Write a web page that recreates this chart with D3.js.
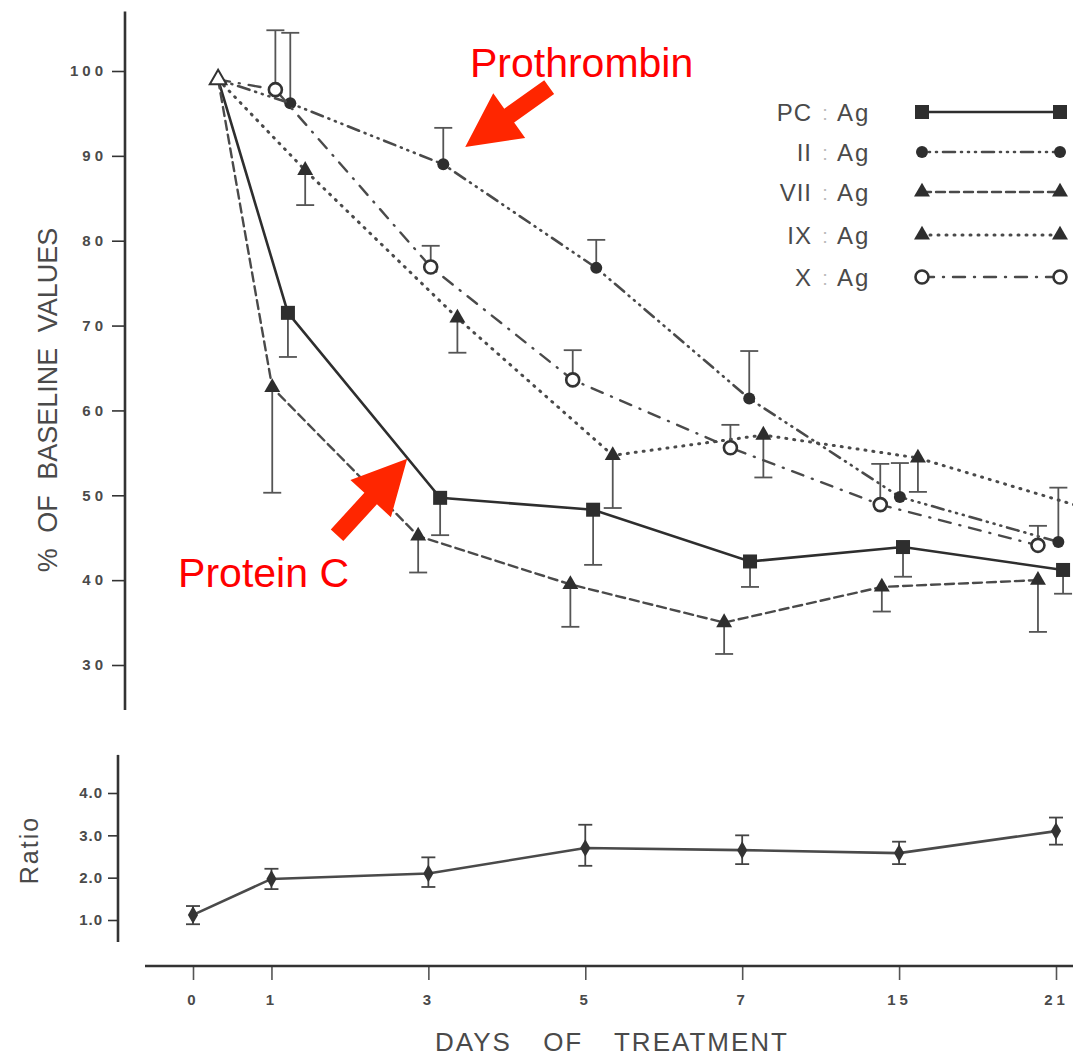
<!DOCTYPE html>
<html>
<head>
<meta charset="utf-8">
<script src="https://cdn.jsdelivr.net/npm/d3@7"></script>
<style>
body { margin: 0; background: #fff; }
text { font-family: "Liberation Sans", Arial, sans-serif; }
</style>
</head>
<body>
<div id="chart"></div>
<script>
// Days on the axis and their slot on the (uneven) time axis
var dayLabels = ["0", "1", "3", "5", "7", "15", "21"];
var daySlots = [0, 1, 3, 5, 7, 9, 11];

// Top panel: % of baseline values (points are staggered a little around each day)
var pcSlot = [0.32, 1.21, 3.15, 5.10, 7.10, 9.05, 11.09];
var pcVal  = [99, 71.5, 49.7, 48.3, 42.2, 43.9, 41.2];
var pcErr  = [null, 66.3, 45.3, 41.8, 39.2, 40.4, 38.4];

var iiSlot = [0.32, 1.24, 3.19, 5.14, 7.09, 9.01, 11.03];
var iiVal  = [99, 96.2, 89.0, 76.8, 61.4, 49.8, 44.5];
var iiErr  = [null, 104.5, 93.3, 80.1, 67.0, 53.8, 50.9];

var viiSlot = [0.32, 1.01, 2.87, 4.81, 6.77, 8.78, 10.77];
var viiVal  = [99, 62.7, 45.2, 39.5, 35.0, 39.2, 40.0];
var viiErr  = [null, 50.3, 40.9, 34.5, 31.3, 36.3, 33.9];

var ixSlot = [0.32, 1.43, 3.37, 5.35, 7.27, 9.24, 11.37];
var ixVal  = [99, 88.3, 70.9, 54.7, 57.1, 54.4, 48.5];
var ixErr  = [null, 84.2, 66.8, 48.5, 52.1, 50.4, 45.0];

var xSlot = [0.32, 1.05, 3.03, 4.84, 6.85, 8.76, 10.77];
var xVal  = [99, 97.8, 76.9, 63.6, 55.6, 48.9, 44.1];
var xErr  = [null, 104.8, 79.4, 67.1, 58.3, 53.7, 46.4];

var pctTicks = [30, 40, 50, 60, 70, 80, 90, 100];

// Bottom panel: ratio with error range
var ratioVal = [1.12, 1.97, 2.10, 2.70, 2.65, 2.58, 3.10];
var ratioLo  = [0.90, 1.73, 1.78, 2.28, 2.32, 2.32, 2.78];
var ratioHi  = [1.33, 2.21, 2.48, 3.25, 3.00, 2.85, 3.42];
var ratioTicks = [1, 2, 3, 4];

// Series table built from the arrays above
var series = [
    { label: "PC", slot: pcSlot, val: pcVal, err: pcErr, dash: null, marker: "square", color: "#2e2e2e", width: 2.6 },
    { label: "II", slot: iiSlot, val: iiVal, err: iiErr, dash: "1,6,1,6,1,6,12,6", marker: "circle", color: "#4a4a4a", width: 2.6 },
    { label: "VII", slot: viiSlot, val: viiVal, err: viiErr, dash: "9,5", marker: "triangle", color: "#4a4a4a", width: 2.4 },
    { label: "IX", slot: ixSlot, val: ixVal, err: ixErr, dash: "1,7", marker: "triangle", color: "#4a4a4a", width: 3 },
    { label: "X", slot: xSlot, val: xVal, err: xErr, dash: "12,9,1,9", marker: "open", color: "#4a4a4a", width: 2.4 }
];

var width = 1073;
var height = 1057;

var svg = d3.select("#chart").append("svg")
    .attr("width", width)
    .attr("height", height);

var x = d3.scaleLinear().domain([0, 11]).range([193, 1056]);
var y = d3.scaleLinear().domain([30, 100]).range([665, 71]);
var yr = d3.scaleLinear().domain([1, 4]).range([920, 793]);

var axisColor = "#333";
var labelColor = "#4a4a4a";

// ---- top y axis
var yAxis = svg.append("g")
    .attr("transform", "translate(125,0)")
    .call(d3.axisLeft(y).tickValues(pctTicks).tickSize(13).tickPadding(5)
        .tickFormat(function (d) { return d; }));
yAxis.select(".domain").remove();
yAxis.selectAll("line").attr("stroke", axisColor).attr("stroke-width", 1.6);
yAxis.selectAll("text")
    .attr("fill", labelColor)
    .style("font-size", "15px")
    .style("letter-spacing", "4px")
    .style("font-weight", "bold");
yAxis.append("line")
    .attr("x1", 0).attr("x2", 0)
    .attr("y1", y(107)).attr("y2", y(24.7))
    .attr("stroke", axisColor).attr("stroke-width", 2.6);

svg.append("text")
    .attr("transform", "translate(57,400) rotate(-90)")
    .attr("text-anchor", "middle")
    .attr("fill", labelColor)
    .style("font-size", "27px")
    .style("word-spacing", "8px")
    .text("% OF BASELINE VALUES");

// ---- bottom y axis
var rAxis = svg.append("g")
    .attr("transform", "translate(118,0)")
    .call(d3.axisLeft(yr).tickValues(ratioTicks).tickSize(10).tickPadding(5)
        .tickFormat(d3.format(".1f")));
rAxis.select(".domain").remove();
rAxis.selectAll("line").attr("stroke", axisColor).attr("stroke-width", 1.6);
rAxis.selectAll("text")
    .attr("fill", labelColor)
    .style("font-size", "15px")
    .style("letter-spacing", "1px")
    .style("font-weight", "bold");
rAxis.append("line")
    .attr("x1", 0).attr("x2", 0)
    .attr("y1", yr(4.9)).attr("y2", yr(0.48))
    .attr("stroke", axisColor).attr("stroke-width", 2.6);

svg.append("text")
    .attr("transform", "translate(38,850) rotate(-90)")
    .attr("text-anchor", "middle")
    .attr("fill", labelColor)
    .style("font-size", "25px")
    .style("letter-spacing", "2px")
    .text("Ratio");

// ---- x axis
var xAxis = svg.append("g")
    .attr("transform", "translate(0,966)")
    .call(d3.axisBottom(x).tickValues(daySlots).tickSize(14).tickPadding(14)
        .tickFormat(function (d, i) { return dayLabels[i]; }));
xAxis.select(".domain").remove();
xAxis.selectAll("line").attr("stroke", "#555").attr("stroke-width", 1.6);
xAxis.selectAll("text")
    .attr("fill", labelColor)
    .style("font-size", "15px")
    .style("letter-spacing", "4px")
    .style("font-weight", "bold");
xAxis.append("line")
    .attr("x1", 145).attr("x2", width)
    .attr("y1", 0).attr("y2", 0)
    .attr("stroke", axisColor).attr("stroke-width", 2.6);

svg.append("text")
    .attr("x", 612).attr("y", 1051)
    .attr("text-anchor", "middle")
    .attr("fill", labelColor)
    .style("font-size", "26px")
    .style("letter-spacing", "2px")
    .style("word-spacing", "22px")
    .text("DAYS OF TREATMENT");

// ---- markers
function drawMarker(g, type, cx, cy, color) {
    if (type === "square") {
        g.append("rect").attr("x", cx - 7).attr("y", cy - 7).attr("width", 14).attr("height", 14)
            .attr("fill", color);
    } else if (type === "circle") {
        g.append("circle").attr("cx", cx).attr("cy", cy).attr("r", 6).attr("fill", "#2e2e2e");
    } else if (type === "triangle") {
        g.append("path").attr("d", d3.symbol().type(d3.symbolTriangle).size(110)())
            .attr("transform", "translate(" + cx + "," + cy + ")")
            .attr("fill", "#2e2e2e");
    } else if (type === "open") {
        g.append("circle").attr("cx", cx).attr("cy", cy).attr("r", 6.5)
            .attr("fill", "#fff").attr("stroke", "#333").attr("stroke-width", 2.6);
    }
}

var line = d3.line()
    .x(function (d) { return x(d.s); })
    .y(function (d) { return y(d.v); });

var plot = svg.append("g");

series.forEach(function (s) {
    var pts = s.val.map(function (v, i) { return { s: s.slot[i], v: v, e: s.err[i] }; });
    var g = plot.append("g");

    g.append("path")
        .datum(pts)
        .attr("d", line)
        .attr("fill", "none")
        .attr("stroke", s.color)
        .attr("stroke-width", s.width)
        .attr("stroke-linecap", s.dash ? "round" : "butt")
        .attr("stroke-dasharray", s.dash);

    // one-sided error bars
    pts.forEach(function (p) {
        if (p.e == null) return;
        var px = x(p.s);
        g.append("line")
            .attr("x1", px).attr("x2", px)
            .attr("y1", y(p.v)).attr("y2", y(p.e))
            .attr("stroke", "#555").attr("stroke-width", 1.8);
        g.append("line")
            .attr("x1", px - 9).attr("x2", px + 9)
            .attr("y1", y(p.e)).attr("y2", y(p.e))
            .attr("stroke", "#555").attr("stroke-width", 1.8);
    });

    pts.forEach(function (p, i) {
        if (i === 0) return;
        drawMarker(g, s.marker, x(p.s), y(p.v), s.color);
    });
});

// shared starting point at day 0
plot.append("path")
    .attr("d", d3.symbol().type(d3.symbolTriangle).size(120)())
    .attr("transform", "translate(" + x(pcSlot[0]) + "," + y(pcVal[0]) + ")")
    .attr("fill", "#fff").attr("stroke", "#333").attr("stroke-width", 2);

// ---- ratio panel
var rline = d3.line()
    .x(function (d, i) { return x(daySlots[i]); })
    .y(function (d) { return yr(d); });

svg.append("path")
    .datum(ratioVal)
    .attr("d", rline)
    .attr("fill", "none")
    .attr("stroke", "#4a4a4a")
    .attr("stroke-width", 2.6);

ratioVal.forEach(function (v, i) {
    var px = x(daySlots[i]);
    var g = svg.append("g");
    g.append("line").attr("x1", px).attr("x2", px)
        .attr("y1", yr(ratioLo[i])).attr("y2", yr(ratioHi[i]))
        .attr("stroke", "#444").attr("stroke-width", 1.8);
    [ratioLo[i], ratioHi[i]].forEach(function (e) {
        g.append("line").attr("x1", px - 7).attr("x2", px + 7)
            .attr("y1", yr(e)).attr("y2", yr(e))
            .attr("stroke", "#444").attr("stroke-width", 1.8);
    });
    g.append("path")
        .attr("d", d3.symbol().type(d3.symbolDiamond).size(90)())
        .attr("transform", "translate(" + px + "," + yr(v) + ")")
        .attr("fill", "#333");
});

// ---- legend
var legend = svg.append("g");
var legendRows = [112, 152, 192, 235, 277];

series.forEach(function (s, i) {
    var ly = legendRows[i];
    var row = legend.append("g");
    row.append("text").attr("x", 812).attr("y", ly + 9).attr("text-anchor", "end")
        .attr("fill", labelColor).style("font-size", "24px").style("letter-spacing", "1px")
        .text(s.label);
    row.append("text").attr("x", 825).attr("y", ly + 8).attr("text-anchor", "middle")
        .attr("fill", "#bbb").style("font-size", "20px").text(":");
    row.append("text").attr("x", 837).attr("y", ly + 9)
        .attr("fill", labelColor).style("font-size", "24px").style("letter-spacing", "2px")
        .text("Ag");
    row.append("line")
        .attr("x1", 922).attr("x2", 1060)
        .attr("y1", ly).attr("y2", ly)
        .attr("stroke", s.color)
        .attr("stroke-width", s.width)
        .attr("stroke-linecap", s.dash ? "round" : "butt")
        .attr("stroke-dasharray", s.dash);
    drawMarker(row, s.marker, 922, ly, s.color);
    drawMarker(row, s.marker, 1060, ly, s.color);
});

// ---- red annotations (positions in data units)
var notes = [
    { text: "Prothrombin", tx: 3.53, ty: 99.3, tail: [4.54, 98.1], tip: [3.47, 91.05] },
    { text: "Protein C", tx: -0.19, ty: 39.2, tail: [1.836, 45.3], tip: [2.73, 54.3] }
];

function arrowPath(x0, y0, x1, y1) {
    var dx = x1 - x0, dy = y1 - y0;
    var len = Math.sqrt(dx * dx + dy * dy);
    var ux = dx / len, uy = dy / len;
    var nx = -uy, ny = ux;
    var shaft = 8.5, head = 27.5, headLen = 54;
    var bx = x1 - ux * headLen, by = y1 - uy * headLen;
    var p = [
        [x0 + nx * shaft, y0 + ny * shaft],
        [bx + nx * shaft, by + ny * shaft],
        [bx + nx * head, by + ny * head],
        [x1, y1],
        [bx - nx * head, by - ny * head],
        [bx - nx * shaft, by - ny * shaft],
        [x0 - nx * shaft, y0 - ny * shaft]
    ];
    return "M" + p.map(function (q) { return q[0] + "," + q[1]; }).join("L") + "Z";
}

notes.forEach(function (n) {
    svg.append("path")
        .attr("d", arrowPath(x(n.tail[0]), y(n.tail[1]), x(n.tip[0]), y(n.tip[1])))
        .attr("fill", "#ff2600");
    svg.append("text")
        .attr("x", x(n.tx)).attr("y", y(n.ty))
        .attr("fill", "#ff0000")
        .style("font-size", "41px")
        .text(n.text);
});
</script>
</body>
</html>
